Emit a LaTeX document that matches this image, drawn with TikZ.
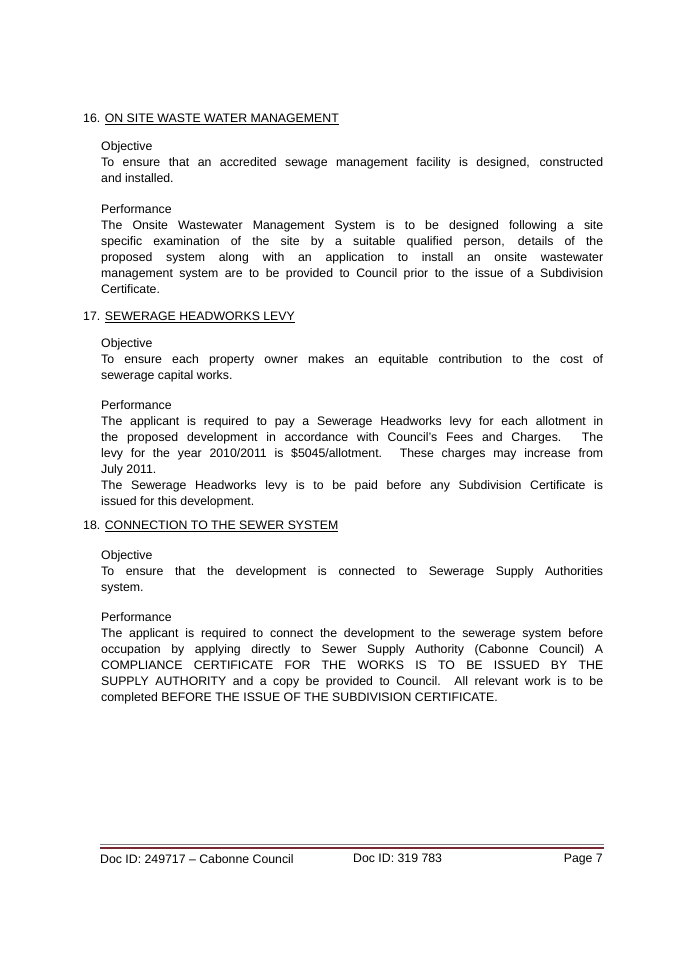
\documentclass[tikz,border=0pt]{standalone}
\usepackage{fontspec}
\setmainfont{Liberation Sans}
\definecolor{rule}{RGB}{120,40,50}
\begin{document}
\begin{tikzpicture}[x=1pt,y=-1pt,
  para/.style={anchor=north west,inner sep=0pt,text width=502pt,align=justify,font=\fontsize{12.3}{16}\selectfont},
  head/.style={anchor=north west,inner sep=0pt,font=\fontsize{12.3}{16}\selectfont},
  foot/.style={anchor=north west,inner sep=0pt,font=\fontsize{12.3}{16}\selectfont}]
\useasboundingbox[fill=white] (0,0) rectangle (682,965);
% 16
\node[head] (h16) at (83,114) {16. \underline{ON SITE WASTE WATER MANAGEMENT}};
\node[head] (o16) at (101,141) {Objective};
\node[para] (t16a) at (101,157) {To ensure that an accredited sewage management facility is designed, constructed\linebreak and installed.};
\node[head] (p16) at (101,204) {Performance};
\node[para] (t16b) at (101,220) {The Onsite Wastewater Management System is to be designed following a site\linebreak specific examination of the site by a suitable qualified person, details of the\linebreak proposed system along with an application to install an onsite wastewater\linebreak management system are to be provided to Council prior to the issue of a Subdivision\linebreak Certificate.};
% 17
\node[head] (h17) at (83,312) {17. \underline{SEWERAGE HEADWORKS LEVY}};
\node[head] (o17) at (101,338) {Objective};
\node[para] (t17a) at (101,354) {To ensure each property owner makes an equitable contribution to the cost of\linebreak sewerage capital works.};
\node[head] (p17) at (101,400) {Performance};
\node[para] (t17b) at (101,416) {The applicant is required to pay a Sewerage Headworks levy for each allotment in\linebreak the proposed development in accordance with Council's Fees and Charges. The\linebreak levy for the year 2010/2011 is \$5045/allotment. These charges may increase from\linebreak July 2011.\\
The Sewerage Headworks levy is to be paid before any Subdivision Certificate is\linebreak issued for this development.};
% 18
\node[head] (h18) at (83,521) {18. \underline{CONNECTION TO THE SEWER SYSTEM}};
\node[head] (o18) at (101,550) {Objective};
\node[para] (t18a) at (101,566) {To ensure that the development is connected to Sewerage Supply Authorities\linebreak system.};
\node[head] (p18) at (101,612) {Performance};
\node[para] (t18b) at (101,628) {The applicant is required to connect the development to the sewerage system before\linebreak occupation by applying directly to Sewer Supply Authority (Cabonne Council) A\linebreak COMPLIANCE CERTIFICATE FOR THE WORKS IS TO BE ISSUED BY THE\linebreak SUPPLY AUTHORITY and a copy be provided to Council. All relevant work is to be\linebreak completed BEFORE THE ISSUE OF THE SUBDIVISION CERTIFICATE.};
% footer
\coordinate (fl) at (100,848);
\coordinate (fr) at (604,848);
\draw[rule,line width=1.6pt] (fl) -- (fr);
\draw[gray,line width=0.6pt] ([yshift=3.5pt]fl) -- ([yshift=3.5pt]fr);
\node[foot] (f1) at (100,854) {Doc ID: 249717 – Cabonne Council};
\node[foot] (f2) at (353,854) {Doc ID: 319 783};
\node[foot,anchor=north east] (f3) at (603,854) {Page 7};
\end{tikzpicture}
\end{document}
